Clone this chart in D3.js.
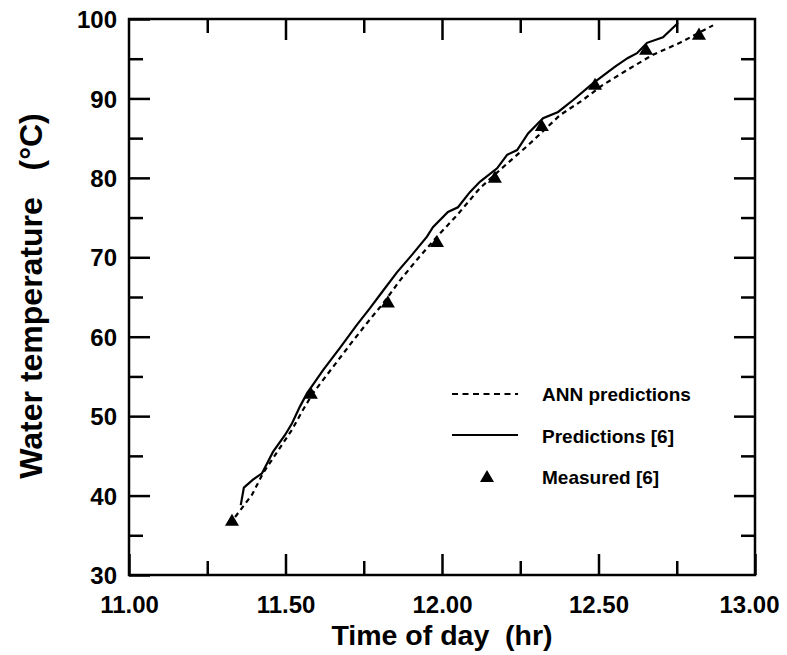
<!DOCTYPE html>
<html><head><meta charset="utf-8">
<script src="https://cdn.jsdelivr.net/npm/d3@7"></script>
<style>
body{margin:0;background:#fff}
text{font-family:Arial,"Liberation Sans",sans-serif;font-weight:bold;fill:#000}
</style>
</head><body>
<svg id="chart" width="787" height="655"></svg>
<script>
// ---- data ----
const xMajorTicks = [11.00, 11.50, 12.00, 12.50, 13.00];
const xMinorTicks = [11.25, 11.75, 12.25, 12.75];
const yMajorTicks = [30, 40, 50, 60, 70, 80, 90, 100];
const yMinorTicks = [35, 45, 55, 65, 75, 85, 95];

const measuredTime = [11.329, 11.581, 11.827, 11.984, 12.169, 12.319, 12.489, 12.652, 12.821];
const measuredTemp = [36.7, 52.7, 64.2, 71.8, 79.9, 86.4, 91.6, 96.0, 97.9];

const annTime = [11.339, 11.393, 11.428, 11.482, 11.521, 11.556, 11.588, 11.652, 11.706, 11.760, 11.812, 11.866, 11.920, 11.984, 12.048, 12.121, 12.185, 12.275, 12.377, 12.450, 12.514, 12.601, 12.674, 12.760, 12.866];
const annTemp = [37.3, 40.1, 42.8, 46.0, 48.3, 50.8, 52.9, 56.2, 59.0, 61.7, 64.2, 67.1, 69.7, 72.6, 75.3, 78.7, 81.0, 84.1, 87.9, 89.8, 91.7, 93.8, 95.5, 97.0, 99.2];

const predTime = [11.357, 11.367, 11.396, 11.425, 11.460, 11.498, 11.521, 11.546, 11.569, 11.594, 11.620, 11.674, 11.728, 11.770, 11.808, 11.856, 11.904, 11.952, 11.971, 12.019, 12.051, 12.089, 12.121, 12.176, 12.208, 12.240, 12.275, 12.323, 12.371, 12.419, 12.482, 12.553, 12.594, 12.623, 12.655, 12.706, 12.754];
const predTemp = [38.8, 41.0, 42.0, 42.8, 45.5, 47.6, 49.1, 51.2, 52.9, 54.3, 55.8, 58.6, 61.5, 63.6, 65.6, 68.1, 70.3, 72.6, 73.8, 75.7, 76.3, 78.2, 79.5, 81.2, 82.9, 83.5, 85.6, 87.5, 88.3, 89.8, 91.9, 94.0, 95.1, 95.7, 97.0, 97.7, 99.5];

const legendLabels = ["ANN predictions", "Predictions [6]", "Measured [6]"];

// ---- layout ----
const M = {left:129, top:19, right:755, bottom:575};
const svg = d3.select("#chart");
const x = d3.scaleLinear().domain([11, 13]).range([M.left, M.right]);
const y = d3.scaleLinear().domain([30, 100]).range([M.bottom, M.top]);
const fmt = d3.format(".2f");

function addAxis(axisFn, pos, transform, ticks, size, labels, fmtFn) {
  const g = svg.append("g").attr("transform", transform)
    .call(axisFn(pos).tickValues(ticks).tickSize(size).tickSizeOuter(0)
      .tickPadding(labels ? (axisFn===d3.axisBottom ? 21 : 12) : 0)
      .tickFormat(labels ? fmtFn : ""));
  g.select(".domain").remove();
  g.selectAll(".tick line").attr("stroke", "#000").attr("stroke-width", 2.5);
  g.selectAll(".tick text").style("font-size", "24px").attr("fill", "#000");
  return g;
}
const gb = addAxis(d3.axisBottom, x, `translate(0,${M.bottom})`, xMajorTicks, -21, true, d => fmt(d));
addAxis(d3.axisBottom, x, `translate(0,${M.bottom})`, xMinorTicks, -14, false);
addAxis(d3.axisTop, x, `translate(0,${M.top})`, xMajorTicks.slice(1, -1), -21, false);
addAxis(d3.axisTop, x, `translate(0,${M.top})`, xMinorTicks, -14, false);
const gl = addAxis(d3.axisLeft, y, `translate(${M.left},0)`, yMajorTicks, -21, true, d => d);
addAxis(d3.axisLeft, y, `translate(${M.left},0)`, yMinorTicks, -14, false);
addAxis(d3.axisRight, y, `translate(${M.right},0)`, yMajorTicks.slice(1, -1), -21, false);
addAxis(d3.axisRight, y, `translate(${M.right},0)`, yMinorTicks, -14, false);
gl.selectAll(".tick text").attr("dy", "0.36em");
gb.selectAll(".tick text").attr("dy", "0.71em");
gb.selectAll(".tick text").filter(d => d === 13).attr("dx", -6);

// frame
svg.append("rect").attr("x", M.left).attr("y", M.top)
  .attr("width", M.right - M.left).attr("height", M.bottom - M.top)
  .attr("fill", "none").attr("stroke", "#000").attr("stroke-width", 2.5);

// lines
const line = d3.line().x(d => x(d[0])).y(d => y(d[1]));
svg.append("path").datum(d3.zip(annTime, annTemp)).attr("d", line)
  .attr("fill", "none").attr("stroke", "#000").attr("stroke-width", 2.2).attr("stroke-dasharray", "5,4");
svg.append("path").datum(d3.zip(predTime, predTemp)).attr("d", line)
  .attr("fill", "none").attr("stroke", "#000").attr("stroke-width", 2.2);

// measured triangles
const tri = d3.symbol().type(d3.symbolTriangle).size(85);
svg.selectAll(".meas").data(d3.zip(measuredTime, measuredTemp)).enter().append("path")
  .attr("d", tri).attr("fill", "#000")
  .attr("transform", d => `translate(${x(d[0])},${y(d[1])})`);

// axis titles
svg.append("text").attr("x", 442).attr("y", 645).attr("text-anchor", "middle")
  .style("font-size", "28.5px").style("white-space", "pre").text("Time of day  (hr)");
svg.append("text").attr("transform", "translate(42,296) rotate(-90)").attr("text-anchor", "middle")
  .style("font-size", "32px").style("white-space", "pre").text("Water temperature   (\u00B0C)");

// legend
const lg = svg.append("g");
lg.append("line").attr("x1", 452).attr("x2", 518).attr("y1", 394).attr("y2", 394)
  .attr("stroke", "#000").attr("stroke-width", 2.2).attr("stroke-dasharray", "6,4.5");
lg.append("line").attr("x1", 452).attr("x2", 518).attr("y1", 435).attr("y2", 435)
  .attr("stroke", "#000").attr("stroke-width", 2.2);
lg.append("path").attr("d", tri).attr("transform", "translate(487,478)").attr("fill", "#000");
lg.selectAll(".lt").data(legendLabels).enter().append("text")
  .attr("x", 542).attr("y", (d, i) => 401 + i * 41.5)
  .style("font-size", "19px").text(d => d);
</script>
</body></html>
